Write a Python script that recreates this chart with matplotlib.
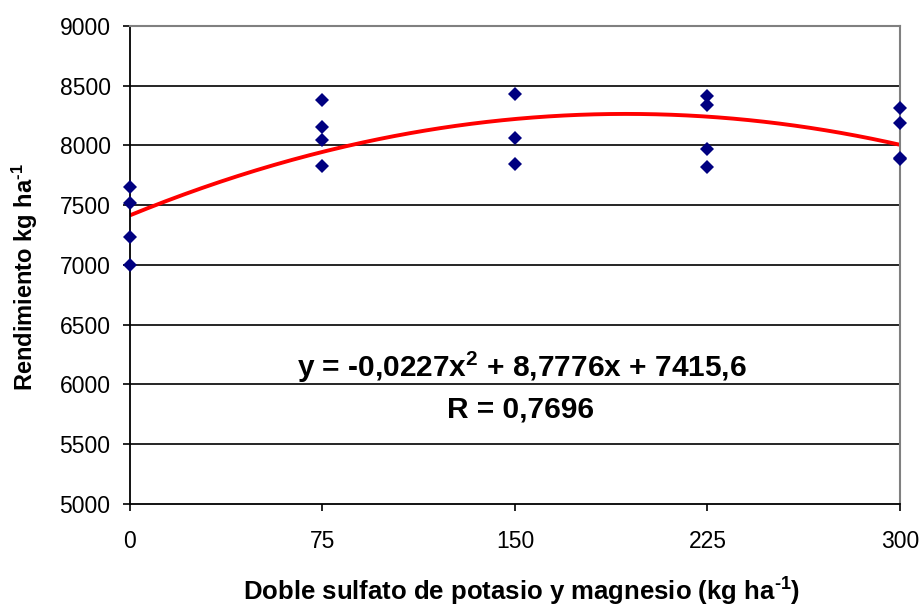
import matplotlib
matplotlib.use('Agg')
import matplotlib.pyplot as plt
import numpy as np

plt.rcParams['mathtext.default'] = 'regular'

# dosis de doble sulfato (kg/ha) y rendimientos observados
dosis = [0, 0, 0, 0,
         75, 75, 75, 75,
         150, 150, 150,
         225, 225, 225, 225,
         300, 300, 300, 300]
rendimiento = [7650, 7515, 7235, 7000,
               8380, 8155, 8050, 7830,
               8430, 8065, 7845,
               8410, 8340, 7970, 7820,
               8315, 8185, 7895, 7885]

# ajuste cuadratico y = a*x^2 + b*x + c
a, b, c = -0.0227, 8.7776, 7415.6
r_val = 0.7696

x_ticks = [0, 75, 150, 225, 300]
y_ticks = list(range(5000, 9001, 500))

fam = ['Liberation Sans', 'DejaVu Sans']
sup_m1 = '$^{\u2010 1}$'  # guion corto en vez del signo menos de mathtext

fig = plt.figure(figsize=(9.23, 6.07), dpi=100)
ax = fig.add_axes([0.1408, 0.1697, 0.8342, 0.7875])

for y in y_ticks[1:-1]:
    ax.axhline(y, color='black', lw=1.2, zorder=1)

xs = np.linspace(0, 300, 301)
ax.plot(xs, a * xs**2 + b * xs + c, color='#ff0000', lw=2.8, zorder=2,
        solid_capstyle='butt')
ax.plot(dosis, rendimiento, 'D', color='#000080', ms=7.5, mew=0,
        zorder=3, clip_on=False)

ax.set_xlim(0, 300)
ax.set_ylim(5000, 9000)
ax.set_xticks(x_ticks)
ax.set_yticks(y_ticks)

ax.spines['left'].set_color('black')
ax.spines['bottom'].set_color('black')
ax.spines['left'].set_linewidth(1.3)
ax.spines['bottom'].set_linewidth(1.3)
ax.spines['top'].set_color('#808080')
ax.spines['right'].set_color('#808080')
ax.spines['top'].set_linewidth(1.5)
ax.spines['right'].set_linewidth(1.5)

ax.tick_params(axis='both', direction='out', length=5, width=1.2, color='black')
ax.tick_params(axis='y', labelsize=16.5, pad=9)
ax.tick_params(axis='x', labelsize=16.5, pad=14)
for lbl in ax.get_yticklabels() + ax.get_xticklabels():
    lbl.set_family(fam)

ax.set_ylabel('Rendimiento kg ha' + sup_m1, fontsize=17,
              fontweight='bold', family=fam)
ax.yaxis.set_label_coords(-0.117, 0.475)
ax.set_xlabel('Doble sulfato de potasio y magnesio (kg ha' + sup_m1 + ')',
              fontsize=18.5, fontweight='bold', family=fam)
ax.xaxis.set_label_coords(0.508, -0.15)

eq = 'y = -0,0227x$^{2}$ + 8,7776x + 7415,6'
ax.text(152.7, 6140, eq, fontsize=21.5, fontweight='bold', ha='center',
        va='center', family=fam, zorder=4)
ax.text(152, 5787, 'R = %s' % str(r_val).replace('.', ','), fontsize=21.5,
        fontweight='bold', ha='center', va='center', family=fam, zorder=4)

fig.savefig('out.png', dpi=100)
